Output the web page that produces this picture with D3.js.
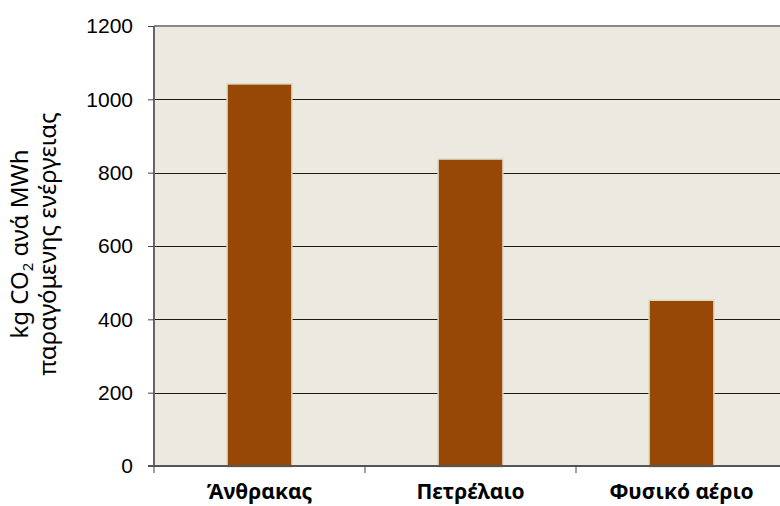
<!DOCTYPE html>
<html>
<head>
<meta charset="utf-8">
<script src="https://cdn.jsdelivr.net/npm/d3@7"></script>
<style>
  html, body { margin: 0; padding: 0; background: #fff; }
  svg { display: block; }
  text { font-family: "Liberation Sans", Arial, sans-serif; }
</style>
</head>
<body>
<svg id="chart" width="780" height="506"></svg>
<script>
// CO2 emissions per MWh of generated energy, by fuel
const categories = ["Άνθρακας", "Πετρέλαιο", "Φυσικό αέριο"];
const values = [1040, 835, 450];
const yTicks = [0, 200, 400, 600, 800, 1000, 1200];

const svg = d3.select("#chart");
const W = 780;
const x0 = 154, x1 = W + 7;
const y0 = 466, y1 = 26;

const x = d3.scaleBand().domain(categories).range([x0, x1]).paddingInner(0).paddingOuter(0);
const y = d3.scaleLinear().domain([0, 1200]).range([y0, y1]);

// plot background
svg.append("rect")
  .attr("x", x0).attr("y", y1)
  .attr("width", x1 - x0).attr("height", y0 - y1)
  .attr("fill", "#ECEAE0");

// top border
svg.append("line")
  .attr("x1", x0).attr("x2", x1)
  .attr("y1", y1).attr("y2", y1)
  .attr("stroke", "#888").attr("stroke-width", 2);

// horizontal gridlines
svg.append("g")
  .selectAll("line")
  .data(yTicks.filter(t => t > 0 && t < 1200))
  .join("line")
  .attr("x1", x0).attr("x2", x1)
  .attr("y1", d => Math.round(y(d)) + 0.5).attr("y2", d => Math.round(y(d)) + 0.5)
  .attr("stroke", "#1a1a1a").attr("stroke-width", 1);

// bars
const barW = x.bandwidth() * 0.3;
svg.append("g")
  .selectAll("rect")
  .data(categories.map((c, i) => ({ c, v: values[i] })))
  .join("rect")
  .attr("x", d => x(d.c) + (x.bandwidth() - barW) / 2)
  .attr("y", d => y(d.v))
  .attr("width", barW)
  .attr("height", d => y0 - y(d.v))
  .attr("fill", "#974706")
  .attr("stroke", "#DCD8C2")
  .attr("stroke-width", 3)
  .attr("paint-order", "stroke");

// y axis
const yAxis = d3.axisLeft(y).tickValues(yTicks).tickFormat(d3.format("d")).tickSize(6).tickPadding(15);
const gy = svg.append("g")
  .attr("transform", `translate(${x0},0)`)
  .call(yAxis);
gy.attr("font-size", 21).attr("font-family", "'Liberation Sans', Arial, sans-serif");
gy.select(".domain").attr("stroke", "#666").attr("stroke-width", 2)
  .attr("d", `M0,${y1}V${y0}`);
gy.selectAll(".tick line").attr("stroke", "#444");
gy.selectAll(".tick text").attr("fill", "#000");

// x axis
const gx = svg.append("g").attr("transform", `translate(0,${y0})`);
gx.append("line")
  .attr("x1", x0 - 6).attr("x2", x1)
  .attr("y1", 0).attr("y2", 0)
  .attr("stroke", "#555").attr("stroke-width", 2);
gx.selectAll("line.tk")
  .data(categories.map(c => x(c)))
  .join("line")
  .attr("class", "tk")
  .attr("x1", d => d).attr("x2", d => d)
  .attr("y1", 0).attr("y2", 7)
  .attr("stroke", "#444").attr("stroke-width", 1);
gx.selectAll("text")
  .data(categories)
  .join("text")
  .attr("x", d => x(d) + x.bandwidth() / 2)
  .attr("y", 33)
  .attr("text-anchor", "middle")
  .style("font-family", "'Noto Sans', sans-serif")
  .attr("font-size", 21)
  .attr("font-weight", "bold")
  .attr("fill", "#000")
  .text(d => d);

// y axis title
const title = svg.append("text")
  .attr("transform", `translate(0,244) rotate(-90)`)
  .attr("text-anchor", "middle")
  .style("font-family", "'Noto Sans', sans-serif")
  .attr("font-size", 24)
  .attr("fill", "#000");
const l1 = title.append("tspan").attr("x", 0).attr("y", 28);
l1.append("tspan").text("kg CO");
l1.append("tspan").attr("font-size", 15).attr("dy", 5).text("2");
l1.append("tspan").attr("dy", -5).text(" ανά MWh");
title.append("tspan").attr("x", 0).attr("y", 56).text("παραγόμενης ενέργειας");
</script>
</body>
</html>
